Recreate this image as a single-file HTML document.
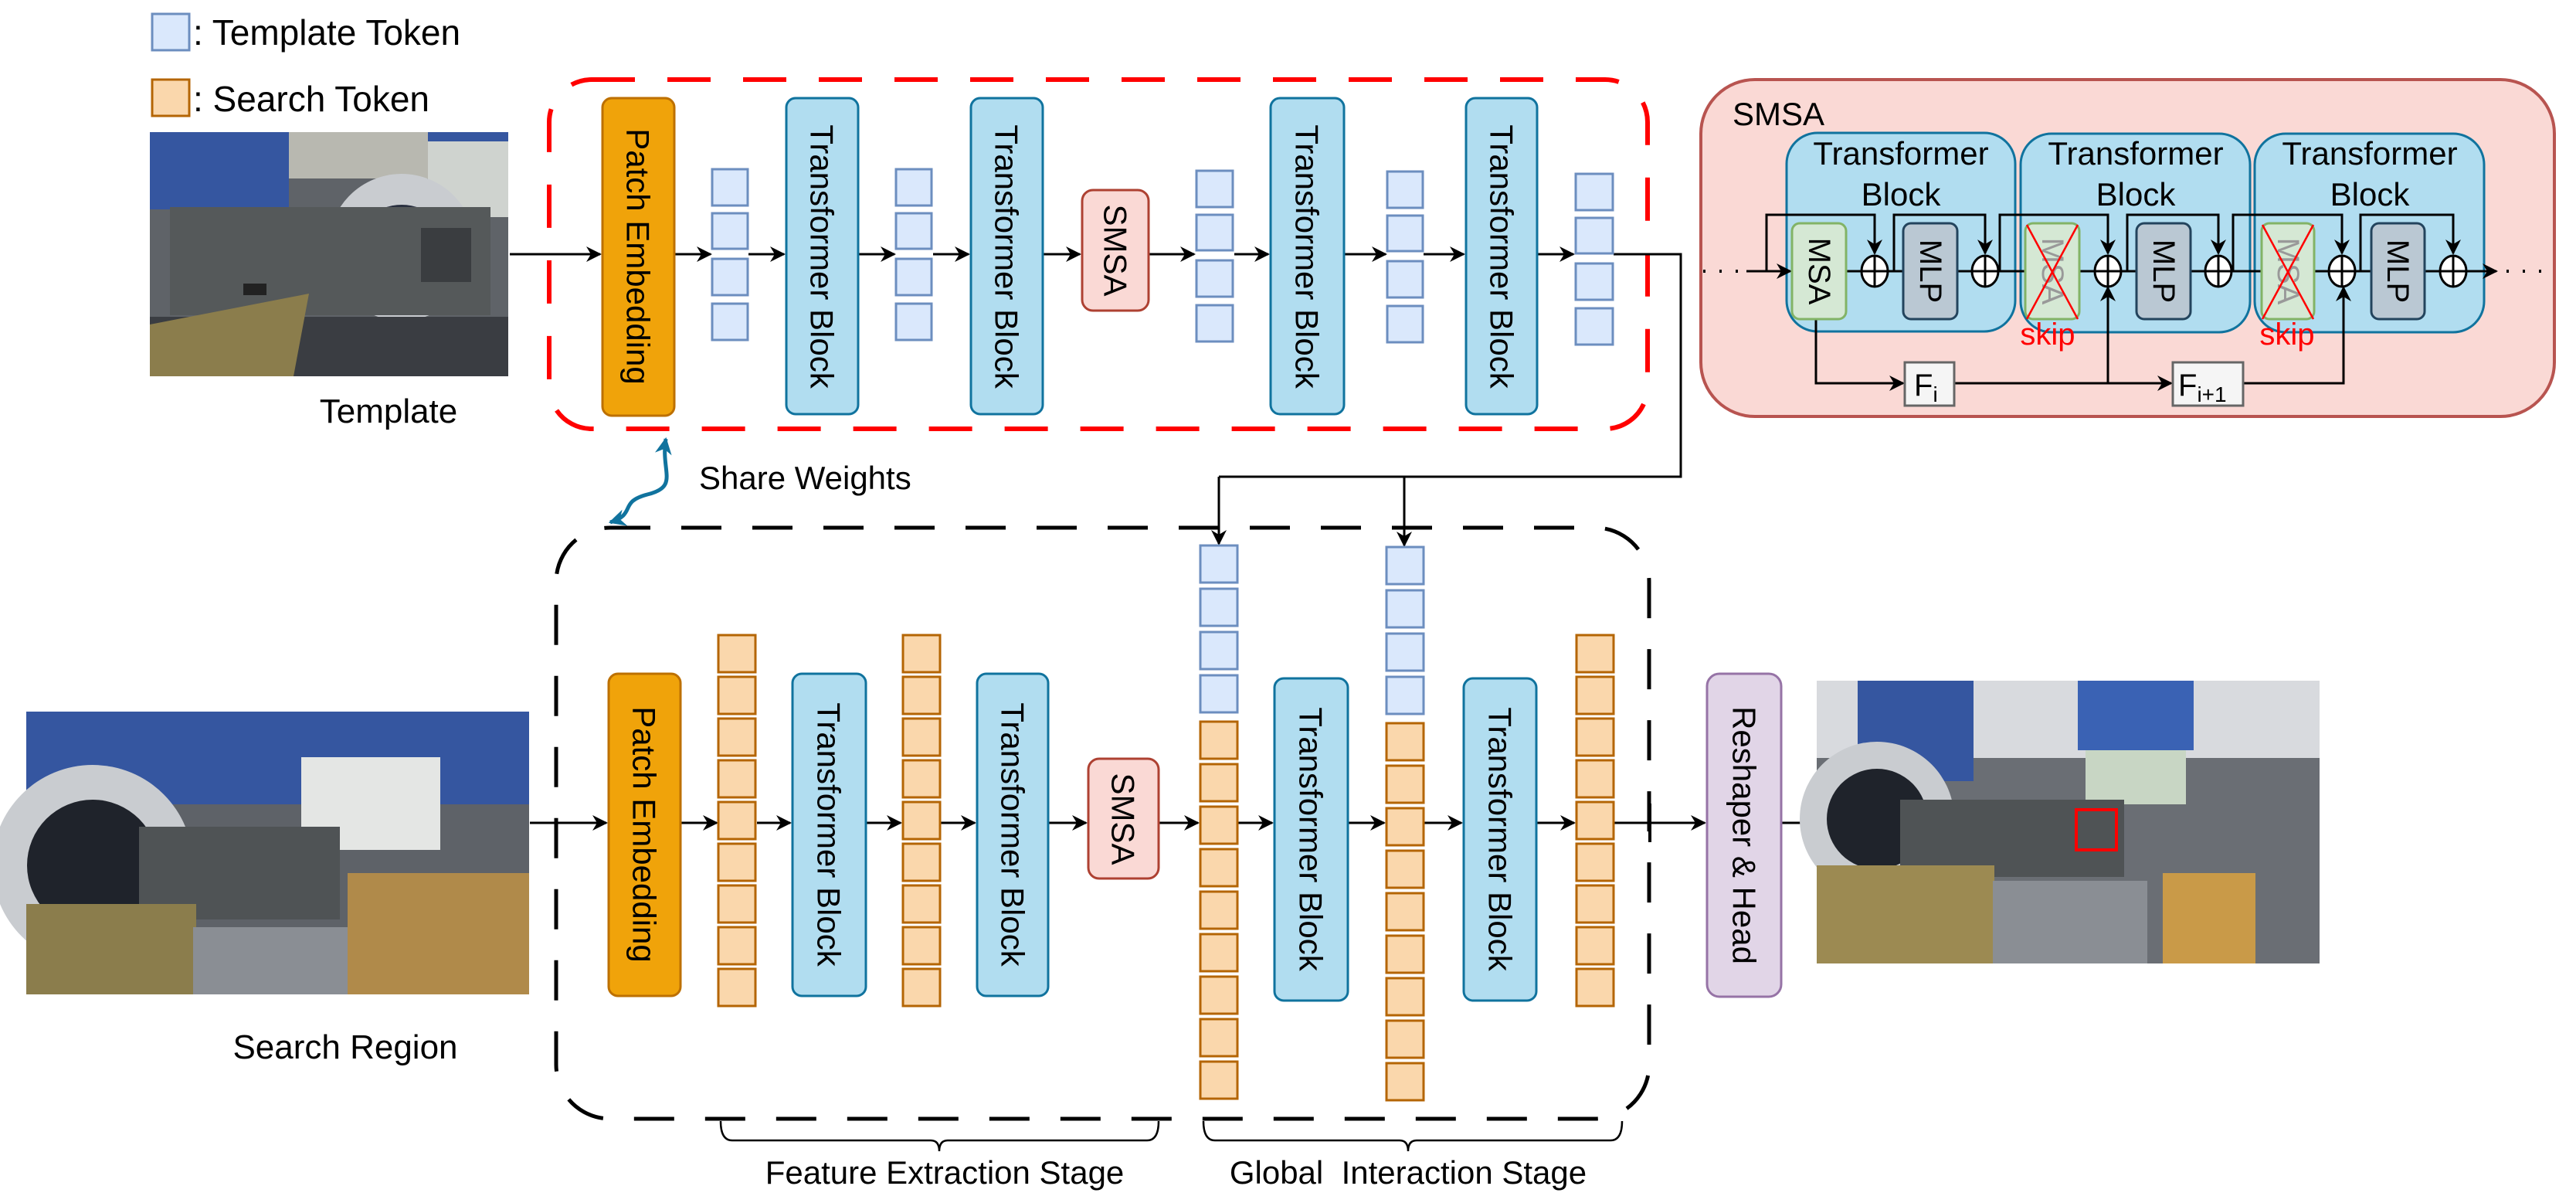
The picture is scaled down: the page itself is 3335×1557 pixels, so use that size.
<!DOCTYPE html>
<html><head><meta charset="utf-8"><style>
html,body{margin:0;padding:0;background:#fff}
svg{display:block}
text{font-family:"Liberation Sans",Arial,sans-serif;fill:#000}
</style></head><body>
<svg width="3335" height="1557" viewBox="0 0 3335 1557" xmlns="http://www.w3.org/2000/svg">
<defs>
<marker id="arb" viewBox="0 0 10 10" refX="9" refY="5" markerWidth="22" markerHeight="22" orient="auto-start-reverse" markerUnits="userSpaceOnUse">
<path d="M0,0 L10,5 L0,10 L3,5 z" fill="#10739E"/>
</marker>
<marker id="a2" viewBox="0 0 10 10" refX="9" refY="5" markerWidth="20" markerHeight="20" orient="auto" markerUnits="userSpaceOnUse">
<path d="M0,0 L10,5 L0,10 L3,5 z" fill="#000"/>
</marker>
</defs>

<!-- legend -->
<rect x="197" y="18" width="48" height="47" fill="#DAE8FC" stroke="#6C8EBF" stroke-width="3"/>
<text x="250" y="58" font-size="46">: Template Token</text>
<rect x="197" y="103" width="48" height="47" fill="#FAD7AC" stroke="#B46504" stroke-width="3"/>
<text x="250" y="144" font-size="46">: Search Token</text>

<!-- template photo -->
<g>
<rect x="194" y="171" width="464" height="316" fill="#5f6368"/>
<rect x="194" y="171" width="180" height="100" fill="#3556a0"/>
<rect x="374" y="171" width="180" height="60" fill="#b8b8b0"/>
<rect x="554" y="171" width="104" height="110" fill="#cfd3cf"/>
<rect x="554" y="171" width="104" height="12" fill="#3556a0"/>
<circle cx="520" cy="320" r="95" fill="#c9ccd0"/>
<circle cx="520" cy="330" r="65" fill="#2a3040"/>
<rect x="220" y="268" width="415" height="140" fill="#55595a"/>
<rect x="194" y="410" width="464" height="77" fill="#3a3d42"/>
<polygon points="194,420 400,380 380,487 194,487" fill="#8b7d4c"/>
<rect x="315" y="367" width="30" height="15" fill="#222"/>
<rect x="545" y="295" width="65" height="70" fill="#3a3d40"/>
</g>
<text x="503" y="547" font-size="44" text-anchor="middle">Template</text>

<!-- red dashed box -->
<rect x="711" y="103" width="1422" height="452" rx="55" fill="none" stroke="#F00" stroke-width="6" stroke-dasharray="56 42"/>

<!-- top row -->
<g stroke="#000" stroke-width="3" fill="none" marker-end="url(#a2)">
<line x1="660" y1="329" x2="777" y2="329"/>
<line x1="874" y1="329" x2="920" y2="329"/>
<line x1="969" y1="329" x2="1015" y2="329"/>
<line x1="1112" y1="329" x2="1158" y2="329"/>
<line x1="1208" y1="329" x2="1254" y2="329"/>
<line x1="1351" y1="329" x2="1398" y2="329"/>
<line x1="1488" y1="329" x2="1546" y2="329"/>
<line x1="1598" y1="329" x2="1642" y2="329"/>
<line x1="1741" y1="329" x2="1794" y2="329"/>
<line x1="1843" y1="329" x2="1895" y2="329"/>
<line x1="1991" y1="329" x2="2037" y2="329"/>
</g>
<polyline points="2089,329 2176,329 2176,617 1578,617" fill="none" stroke="#000" stroke-width="3"/>
<line x1="1578" y1="617" x2="1578" y2="704" stroke="#000" stroke-width="3" marker-end="url(#a2)"/>
<line x1="1818" y1="617" x2="1818" y2="706" stroke="#000" stroke-width="3" marker-end="url(#a2)"/>

<rect x="780" y="127" width="93" height="411" rx="12" fill="#F0A30A" stroke="#BD7000" stroke-width="3"/>
<text transform="rotate(90 826 332)" x="826" y="332" font-size="42" text-anchor="middle" dominant-baseline="central">Patch Embedding</text>

<g fill="#B1DDF0" stroke="#10739E" stroke-width="3">
<rect x="1018" y="127" width="93" height="409" rx="12"/>
<rect x="1257" y="127" width="93" height="409" rx="12"/>
<rect x="1645" y="127" width="95" height="409" rx="12"/>
<rect x="1898" y="127" width="92" height="409" rx="12"/>
</g>
<g font-size="42" text-anchor="middle" dominant-baseline="central">
<text transform="rotate(90 1064 332)" x="1064" y="332">Transformer Block</text>
<text transform="rotate(90 1303 332)" x="1303" y="332">Transformer Block</text>
<text transform="rotate(90 1692 332)" x="1692" y="332">Transformer Block</text>
<text transform="rotate(90 1944 332)" x="1944" y="332">Transformer Block</text>
</g>
<rect x="1401" y="246" width="86" height="156" rx="14" fill="#FAD9D5" stroke="#AE4132" stroke-width="3"/>
<text transform="rotate(90 1444 324)" x="1444" y="324" font-size="42" text-anchor="middle" dominant-baseline="central">SMSA</text>

<g fill="#DAE8FC" stroke="#6C8EBF" stroke-width="3">
<rect x="922" y="219" width="46" height="47"/><rect x="922" y="276" width="46" height="46"/><rect x="922" y="335" width="46" height="47"/><rect x="922" y="393" width="46" height="47"/>
<rect x="1160" y="219" width="46" height="47"/><rect x="1160" y="276" width="46" height="46"/><rect x="1160" y="335" width="46" height="47"/><rect x="1160" y="393" width="46" height="47"/>
<rect x="1549" y="221" width="47" height="47"/><rect x="1549" y="278" width="47" height="46"/><rect x="1549" y="337" width="47" height="47"/><rect x="1549" y="395" width="47" height="47"/>
<rect x="1796" y="222" width="46" height="47"/><rect x="1796" y="279" width="46" height="46"/><rect x="1796" y="338" width="46" height="47"/><rect x="1796" y="396" width="46" height="47"/>
<rect x="2040" y="225" width="48" height="47"/><rect x="2040" y="282" width="48" height="46"/><rect x="2040" y="341" width="48" height="47"/><rect x="2040" y="399" width="48" height="47"/>
</g>

<!-- share weights -->
<path d="M862,568 C855,610 880,630 838,640 C800,650 825,665 790,676" fill="none" stroke="#10739E" stroke-width="5" marker-start="url(#arb)" marker-end="url(#arb)"/>
<text x="905" y="633" font-size="42">Share Weights</text>

<!-- black dashed box -->
<rect x="720" y="683" width="1415" height="765" rx="70" fill="none" stroke="#000" stroke-width="5" stroke-dasharray="52 40"/>

<!-- search photo -->
<g>
<rect x="34" y="921" width="651" height="366" fill="#5e6268"/>
<rect x="34" y="921" width="651" height="120" fill="#3556a0"/>
<rect x="390" y="980" width="180" height="120" fill="#e4e6e4"/>
<circle cx="120" cy="1120" r="130" fill="#c9ccd0"/>
<circle cx="120" cy="1120" r="85" fill="#1f232b"/>
<rect x="180" y="1070" width="260" height="120" fill="#4f5355"/>
<rect x="34" y="1170" width="220" height="117" fill="#8b7d4c"/>
<rect x="450" y="1130" width="235" height="157" fill="#b08a4a"/>
<rect x="250" y="1200" width="200" height="87" fill="#8a8e94"/>
</g>
<text x="447" y="1370" font-size="44" text-anchor="middle">Search Region</text>

<!-- bottom row arrows -->
<g stroke="#000" stroke-width="3" fill="none" marker-end="url(#a2)">
<line x1="686" y1="1065" x2="785" y2="1065"/>
<line x1="882" y1="1065" x2="928" y2="1065"/>
<line x1="980" y1="1065" x2="1023" y2="1065"/>
<line x1="1122" y1="1065" x2="1166" y2="1065"/>
<line x1="1218" y1="1065" x2="1262" y2="1065"/>
<line x1="1358" y1="1065" x2="1406" y2="1065"/>
<line x1="1501" y1="1065" x2="1551" y2="1065"/>
<line x1="1603" y1="1065" x2="1647" y2="1065"/>
<line x1="1746" y1="1065" x2="1792" y2="1065"/>
<line x1="1844" y1="1065" x2="1892" y2="1065"/>
<line x1="1990" y1="1065" x2="2038" y2="1065"/>
<line x1="2090" y1="1065" x2="2207" y2="1065"/>
<line x1="2307" y1="1065" x2="2350" y2="1065"/>
</g>
<line x1="2136" y1="1040" x2="2136" y2="1090" stroke="#000" stroke-width="4"/>

<rect x="788" y="872" width="93" height="417" rx="12" fill="#F0A30A" stroke="#BD7000" stroke-width="3"/>
<text transform="rotate(90 834 1080)" x="834" y="1080" font-size="42" text-anchor="middle" dominant-baseline="central">Patch Embedding</text>
<g fill="#B1DDF0" stroke="#10739E" stroke-width="3">
<rect x="1026" y="872" width="95" height="417" rx="12"/>
<rect x="1265" y="872" width="92" height="417" rx="12"/>
<rect x="1650" y="878" width="95" height="417" rx="12"/>
<rect x="1895" y="878" width="94" height="417" rx="12"/>
</g>
<g font-size="42" text-anchor="middle" dominant-baseline="central">
<text transform="rotate(90 1073 1080)" x="1073" y="1080">Transformer Block</text>
<text transform="rotate(90 1311 1080)" x="1311" y="1080">Transformer Block</text>
<text transform="rotate(90 1697 1086)" x="1697" y="1086">Transformer Block</text>
<text transform="rotate(90 1942 1086)" x="1942" y="1086">Transformer Block</text>
</g>
<rect x="1409" y="982" width="91" height="155" rx="14" fill="#FAD9D5" stroke="#AE4132" stroke-width="3"/>
<text transform="rotate(90 1454 1060)" x="1454" y="1060" font-size="42" text-anchor="middle" dominant-baseline="central">SMSA</text>
<rect x="2210" y="872" width="96" height="418" rx="16" fill="#E1D5E7" stroke="#9673A6" stroke-width="3"/>
<text transform="rotate(90 2258 1081)" x="2258" y="1081" font-size="42" text-anchor="middle" dominant-baseline="central">Reshaper &amp; Head</text>

<!-- search tokens -->
<g fill="#FAD7AC" stroke="#B46504" stroke-width="3">
<rect x="930" y="822" width="48" height="48"/><rect x="930" y="876" width="48" height="48"/><rect x="930" y="930" width="48" height="48"/><rect x="930" y="984" width="48" height="48"/><rect x="930" y="1038" width="48" height="48"/><rect x="930" y="1092" width="48" height="48"/><rect x="930" y="1146" width="48" height="48"/><rect x="930" y="1200" width="48" height="48"/><rect x="930" y="1254" width="48" height="48"/>
<rect x="1169" y="822" width="48" height="48"/><rect x="1169" y="876" width="48" height="48"/><rect x="1169" y="930" width="48" height="48"/><rect x="1169" y="984" width="48" height="48"/><rect x="1169" y="1038" width="48" height="48"/><rect x="1169" y="1092" width="48" height="48"/><rect x="1169" y="1146" width="48" height="48"/><rect x="1169" y="1200" width="48" height="48"/><rect x="1169" y="1254" width="48" height="48"/>
<rect x="2041" y="822" width="48" height="48"/><rect x="2041" y="876" width="48" height="48"/><rect x="2041" y="930" width="48" height="48"/><rect x="2041" y="984" width="48" height="48"/><rect x="2041" y="1038" width="48" height="48"/><rect x="2041" y="1092" width="48" height="48"/><rect x="2041" y="1146" width="48" height="48"/><rect x="2041" y="1200" width="48" height="48"/><rect x="2041" y="1254" width="48" height="48"/>
<rect x="1554" y="934" width="48" height="48"/><rect x="1554" y="989" width="48" height="48"/><rect x="1554" y="1044" width="48" height="48"/><rect x="1554" y="1099" width="48" height="48"/><rect x="1554" y="1154" width="48" height="48"/><rect x="1554" y="1209" width="48" height="48"/><rect x="1554" y="1264" width="48" height="48"/><rect x="1554" y="1319" width="48" height="48"/><rect x="1554" y="1374" width="48" height="48"/>
<rect x="1795" y="936" width="48" height="48"/><rect x="1795" y="991" width="48" height="48"/><rect x="1795" y="1046" width="48" height="48"/><rect x="1795" y="1101" width="48" height="48"/><rect x="1795" y="1156" width="48" height="48"/><rect x="1795" y="1211" width="48" height="48"/><rect x="1795" y="1266" width="48" height="48"/><rect x="1795" y="1321" width="48" height="48"/><rect x="1795" y="1376" width="48" height="48"/>
</g>
<g fill="#DAE8FC" stroke="#6C8EBF" stroke-width="3">
<rect x="1554" y="706" width="48" height="48"/><rect x="1554" y="762" width="48" height="48"/><rect x="1554" y="818" width="48" height="48"/><rect x="1554" y="874" width="48" height="48"/>
<rect x="1795" y="708" width="48" height="48"/><rect x="1795" y="764" width="48" height="48"/><rect x="1795" y="820" width="48" height="48"/><rect x="1795" y="876" width="48" height="48"/>
</g>

<!-- braces -->
<path d="M933,1451 Q933,1476 948,1476 L1205,1476 Q1216,1476 1216,1490 Q1216,1476 1227,1476 L1485,1476 Q1500,1476 1500,1451" fill="none" stroke="#000" stroke-width="2.5"/>
<path d="M1558,1451 Q1558,1476 1573,1476 L1812,1476 Q1823,1476 1823,1490 Q1823,1476 1834,1476 L2085,1476 Q2100,1476 2100,1451" fill="none" stroke="#000" stroke-width="2.5"/>
<text x="1223" y="1532" font-size="42" text-anchor="middle">Feature Extraction Stage</text>
<text x="1823" y="1532" font-size="42" text-anchor="middle" xml:space="preserve">Global  Interaction Stage</text>

<!-- output photo -->
<g>
<rect x="2352" y="881" width="651" height="366" fill="#6a6e74"/>
<rect x="2352" y="881" width="651" height="100" fill="#d8dade"/>
<rect x="2405" y="881" width="150" height="130" fill="#3556a0"/>
<rect x="2690" y="881" width="150" height="90" fill="#3a62b4"/>
<rect x="2700" y="971" width="130" height="70" fill="#c8d6c4"/>
<circle cx="2430" cy="1060" r="100" fill="#c9ccd0"/>
<circle cx="2430" cy="1060" r="65" fill="#1f232b"/>
<rect x="2460" y="1035" width="290" height="100" fill="#4f5355"/>
<rect x="2352" y="1120" width="230" height="127" fill="#9c8a52"/>
<rect x="2800" y="1130" width="120" height="117" fill="#c99a48"/>
<rect x="2580" y="1140" width="200" height="107" fill="#8a8e94"/>
<rect x="2688" y="1048" width="52" height="52" fill="none" stroke="#F00" stroke-width="4"/>
</g>

<!-- SMSA detail -->
<rect x="2202" y="103" width="1105" height="436" rx="70" fill="#FAD9D5" stroke="#B85450" stroke-width="4"/>
<text x="2243" y="162" font-size="42">SMSA</text>
<g fill="#B1DDF0" stroke="#10739E" stroke-width="3">
<rect x="2313" y="172" width="296" height="257" rx="40"/>
<rect x="2616" y="173" width="297" height="257" rx="40"/>
<rect x="2919" y="173" width="297" height="257" rx="40"/>
</g>
<g font-size="42" text-anchor="middle">
<text x="2461" y="213">Transformer</text><text x="2461" y="266">Block</text>
<text x="2765" y="213">Transformer</text><text x="2765" y="266">Block</text>
<text x="3068" y="213">Transformer</text><text x="3068" y="266">Block</text>
</g>
<g fill="none" stroke="#000" stroke-width="3">
<polyline points="2287,351 2287,278 2427,278 2427,328" marker-end="url(#a2)"/>
<polyline points="2452,351 2452,278 2570,278 2570,328" marker-end="url(#a2)"/>
<polyline points="2589,351 2589,278 2729,278 2729,328" marker-end="url(#a2)"/>
<polyline points="2754,351 2754,278 2872,278 2872,328" marker-end="url(#a2)"/>
<polyline points="2891,351 2891,278 3032,278 3032,328" marker-end="url(#a2)"/>
<polyline points="3056,351 3056,278 3176,278 3176,328" marker-end="url(#a2)"/>
<line x1="2261" y1="351" x2="2318" y2="351" marker-end="url(#a2)"/>
<line x1="2390" y1="351" x2="2464" y2="351"/>
<line x1="2534" y1="351" x2="2766" y2="351"/>
<line x1="2836" y1="351" x2="3070" y2="351"/>
<line x1="3139" y1="351" x2="3232" y2="351" marker-end="url(#a2)"/>
<polyline points="2351,413 2351,496 2464,496" marker-end="url(#a2)"/>
<line x1="2530" y1="496" x2="2811" y2="496" marker-end="url(#a2)"/>
<line x1="2729" y1="496" x2="2729" y2="372" marker-end="url(#a2)"/>
<polyline points="2904,496 3034,496 3034,372" marker-end="url(#a2)"/>
</g>
<g fill="none" stroke="#000" stroke-width="4" stroke-dasharray="3 18">
<line x1="2205" y1="351" x2="2258" y2="351"/>
<line x1="3245" y1="351" x2="3305" y2="351"/>
</g>
<rect x="2320" y="289" width="70" height="124" rx="10" fill="#D5E8D4" stroke="#82B366" stroke-width="3"/>
<text transform="rotate(90 2355 351)" x="2355" y="351" font-size="40" text-anchor="middle" dominant-baseline="central">MSA</text>
<g fill="#D5E8D4" stroke="#82B366" stroke-width="3">
<rect x="2622" y="289" width="70" height="124" rx="10"/>
<rect x="2928" y="289" width="68" height="124" rx="10"/>
</g>
<g font-size="40" text-anchor="middle" dominant-baseline="central">
<text transform="rotate(90 2657 351)" x="2657" y="351" style="fill:#999">MSA</text>
<text transform="rotate(90 2962 351)" x="2962" y="351" style="fill:#999">MSA</text>
</g>
<g stroke="#F00" stroke-width="2.5">
<line x1="2624" y1="413" x2="2690" y2="291"/><line x1="2624" y1="291" x2="2690" y2="413"/>
<line x1="2929" y1="413" x2="2995" y2="291"/><line x1="2929" y1="291" x2="2995" y2="413"/>
</g>
<g fill="#BAC8D3" stroke="#23445D" stroke-width="3">
<rect x="2464" y="289" width="70" height="124" rx="10"/>
<rect x="2766" y="289" width="70" height="124" rx="10"/>
<rect x="3070" y="289" width="69" height="124" rx="10"/>
</g>
<g font-size="40" text-anchor="middle" dominant-baseline="central">
<text transform="rotate(90 2499 351)" x="2499" y="351">MLP</text>
<text transform="rotate(90 2801 351)" x="2801" y="351">MLP</text>
<text transform="rotate(90 3104 351)" x="3104" y="351">MLP</text>
</g>
<g fill="#fff" stroke="#000" stroke-width="3">
<g><ellipse cx="2427" cy="351" rx="17" ry="20"/><line x1="2410" y1="351" x2="2444" y2="351"/><line x1="2427" y1="331" x2="2427" y2="371"/></g>
<g><ellipse cx="2570" cy="351" rx="17" ry="20"/><line x1="2553" y1="351" x2="2587" y2="351"/><line x1="2570" y1="331" x2="2570" y2="371"/></g>
<g><ellipse cx="2729" cy="351" rx="17" ry="20"/><line x1="2712" y1="351" x2="2746" y2="351"/><line x1="2729" y1="331" x2="2729" y2="371"/></g>
<g><ellipse cx="2872" cy="351" rx="17" ry="20"/><line x1="2855" y1="351" x2="2889" y2="351"/><line x1="2872" y1="331" x2="2872" y2="371"/></g>
<g><ellipse cx="3032" cy="351" rx="17" ry="20"/><line x1="3015" y1="351" x2="3049" y2="351"/><line x1="3032" y1="331" x2="3032" y2="371"/></g>
<g><ellipse cx="3176" cy="351" rx="17" ry="20"/><line x1="3159" y1="351" x2="3193" y2="351"/><line x1="3176" y1="331" x2="3176" y2="371"/></g>
</g>
<text x="2651" y="446" font-size="40" text-anchor="middle" style="fill:#F00">skip</text>
<text x="2961" y="446" font-size="40" text-anchor="middle" style="fill:#F00">skip</text>
<rect x="2466" y="469" width="64" height="56" fill="#F5F5F5" stroke="#666" stroke-width="3"/>
<text x="2478" y="512" font-size="40">F<tspan font-size="28" dy="8">i</tspan></text>
<rect x="2813" y="469" width="91" height="56" fill="#F5F5F5" stroke="#666" stroke-width="3"/>
<text x="2820" y="512" font-size="40">F<tspan font-size="28" dy="8">i+1</tspan></text>
</svg>
</body></html>
